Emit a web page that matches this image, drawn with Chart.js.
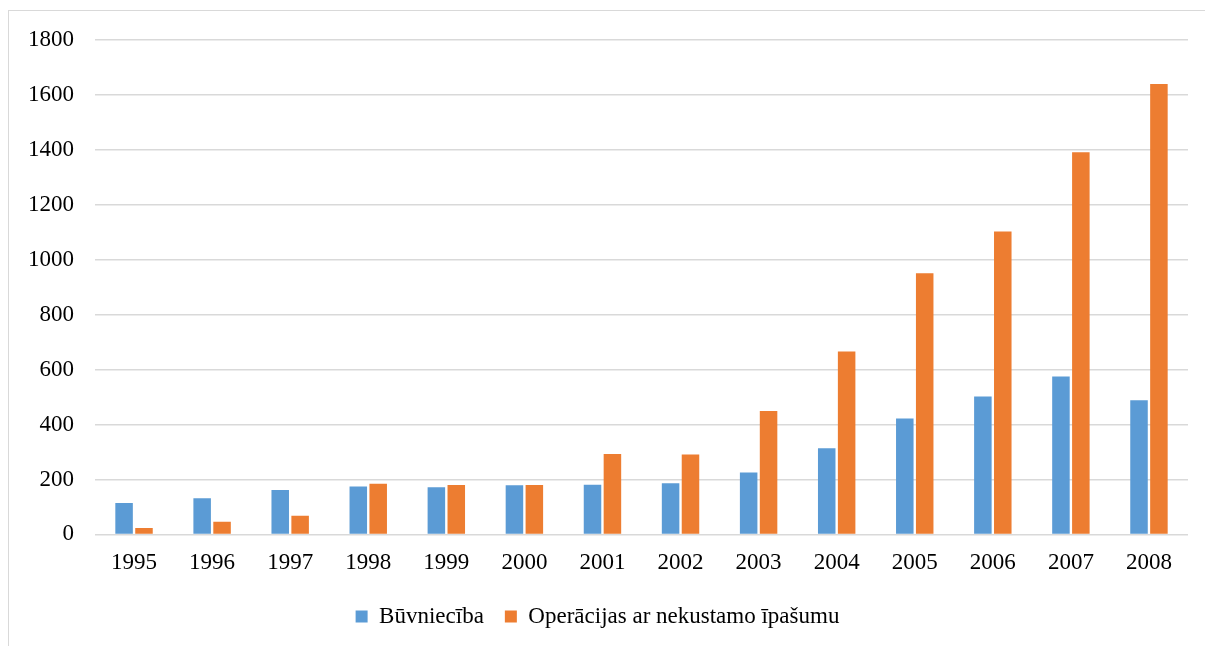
<!DOCTYPE html>
<html lang="lv">
<head>
    <meta charset="UTF-8">
    <title>Būvniecība un operācijas ar nekustamo īpašumu</title>
    <script src="https://cdn.jsdelivr.net/npm/chart.js"></script>
    <style>
        body {
            margin: 0;
            padding: 0;
            background: #fff;
        }

        .frame {
            position: absolute;
            left: 8px;
            top: 10px;
            width: 1205px;
            height: 650px;
            border: 1px solid #d9d9d9;
            box-sizing: border-box;
        }

        .chart-box {
            position: absolute;
            left: 0;
            top: 0;
            width: 1205px;
            height: 646px;
        }
    </style>
</head>
<body>
    <div class="frame"></div>
    <div class="chart-box">
        <canvas id="chart"></canvas>
    </div>

    <script>
        // dati
        const years = ["1995", "1996", "1997", "1998", "1999", "2000", "2001",
                       "2002", "2003", "2004", "2005", "2006", "2007", "2008"];
        const buvnieciba = [114, 132, 162, 174, 172, 179, 181, 186, 225, 314, 422, 502, 575, 488];
        const operacijas = [23, 46, 68, 184, 180, 180, 293, 291, 449, 666, 951, 1103, 1391, 1640];
        const yTicks = [0, 200, 400, 600, 800, 1000, 1200, 1400, 1600, 1800];

        const serif = "'Liberation Serif', 'Times New Roman', serif";

        const ctx = document.getElementById("chart").getContext("2d");
        new Chart(ctx, {
            type: "bar",
            data: {
                labels: years,
                datasets: [
                    {
                        label: "Būvniecība",
                        data: buvnieciba,
                        backgroundColor: "#5B9BD5",
                        categoryPercentage: 0.51,
                        barPercentage: 0.88,
                    },
                    {
                        label: "Operācijas ar nekustamo īpašumu",
                        data: operacijas,
                        backgroundColor: "#ED7D31",
                        categoryPercentage: 0.51,
                        barPercentage: 0.88,
                    },
                ],
            },
            options: {
                responsive: true,
                maintainAspectRatio: false,
                animation: false,
                layout: {
                    padding: { left: 7, right: 17, top: 40, bottom: 8 },
                },
                scales: {
                    x: {
                        grid: { display: false },
                        border: { display: false },
                        ticks: {
                            color: "#000",
                            font: { family: serif, size: 23 },
                            padding: 7,
                            maxRotation: 0,
                        },
                    },
                    y: {
                        min: 0,
                        max: 1800,
                        afterBuildTicks: (axis) => {
                            axis.ticks = yTicks.map((v) => ({ value: v }));
                        },
                        grid: { color: "#d9d9d9", lineWidth: 1.5, drawTicks: false },
                        border: { display: false },
                        ticks: {
                            color: "#000",
                            font: { family: serif, size: 23 },
                            padding: 21,
                            callback: (v) => String(v),
                        },
                    },
                },
                plugins: {
                    legend: {
                        position: "bottom",
                        labels: {
                            color: "#000",
                            font: { family: serif, size: 23 },
                            boxWidth: 12,
                            boxHeight: 12,
                            padding: 21,
                        },
                    },
                    tooltip: { enabled: false },
                },
            },
        });
    </script>
</body>
</html>
